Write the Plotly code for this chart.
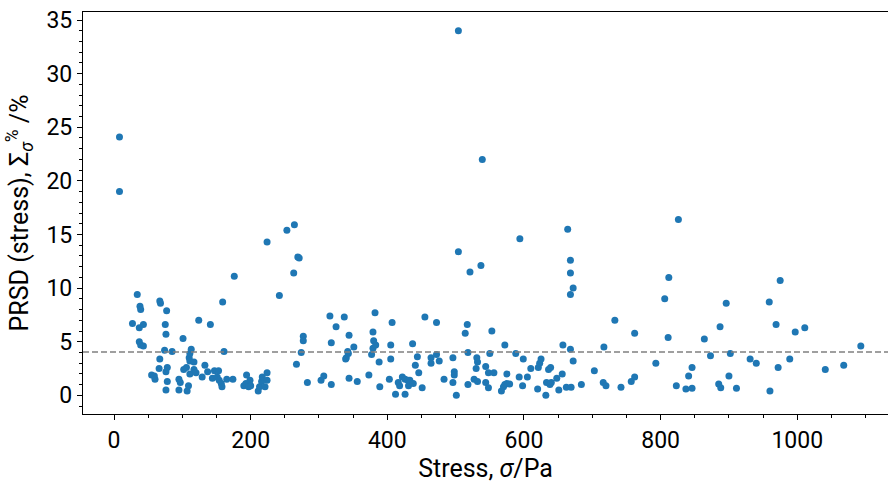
import plotly.graph_objects as go

# Stress (Pa) and percentage relative standard deviation of the stress (%)
stress = [
    8, 8, 27, 34, 37, 38, 39, 37, 39, 43, 43, 55, 59, 60, 66, 67, 67, 68, 74, 75,
    76, 76, 76, 77, 78, 78, 85, 95, 95, 97, 101, 102, 106, 107, 109, 110, 111, 111, 111, 113,
    117, 117, 120, 124, 129, 133, 137, 141, 144, 147, 151, 153, 154, 157, 158, 159, 161, 165, 174, 176,
    190, 193, 194, 197, 199, 200, 211, 213, 216, 217, 221, 224, 224, 224, 242, 253, 263, 264, 267, 269,
    271, 274, 277, 277, 283, 303, 307, 316, 318, 318, 325, 337, 339, 340, 342, 343, 344, 344, 351, 356,
    373, 377, 379, 379, 380, 382, 383, 388, 389, 403, 405, 405, 407, 412, 416, 418, 422, 426, 426, 430,
    431, 433, 437, 438, 441, 444, 446, 451, 455, 464, 464, 472, 472, 476, 483, 496, 496, 498, 498, 501,
    504, 504, 514, 517, 518, 518, 521, 527, 530, 531, 532, 532, 537, 539, 544, 544, 548, 548, 550, 553,
    556, 567, 570, 572, 572, 575, 575, 579, 588, 593, 594, 598, 599, 605, 610, 620, 621, 623, 625, 632,
    633, 636, 638, 639, 640, 648, 651, 656, 657, 662, 664, 668, 668, 668, 668, 669, 672, 672, 684, 703,
    716, 717, 720, 733, 742, 757, 762, 762, 793, 806, 811, 812, 823, 826, 837, 841, 846, 846, 864, 873,
    885, 887, 888, 896, 900, 902, 911, 931, 940, 959, 960, 969, 972, 975, 989, 997, 1011, 1041, 1068, 1093,
]
prsd = [
    24.1, 19.0, 6.7, 9.4, 6.3, 8.3, 8.0, 5.0, 4.7, 6.6, 4.6, 1.9, 1.8, 1.5, 2.5, 8.8, 3.4, 8.6, 4.2, 6.6,
    5.7, 2.2, 0.5, 7.9, 2.6, 1.3, 4.1, 1.5, 0.5, 1.2, 5.3, 2.4, 2.6, 0.4, 0.9, 3.5, 3.9, 3.2, 2.0, 4.3,
    3.1, 2.4, 2.1, 7.0, 1.7, 2.8, 2.2, 6.6, 1.6, 2.3, 1.7, 2.3, 1.4, 1.1, 0.8, 8.7, 4.1, 1.5, 1.5, 11.1,
    0.9, 1.1, 1.9, 0.8, 1.4, 0.9, 0.4, 0.8, 1.3, 1.7, 0.8, 14.3, 2.1, 1.4, 9.3, 15.4, 11.4, 15.9, 2.9, 12.9,
    12.8, 4.0, 5.5, 5.1, 1.2, 1.4, 1.8, 7.4, 1.0, 4.9, 6.4, 7.3, 3.4, 3.5, 4.1, 3.9, 5.6, 1.6, 4.5, 1.3,
    1.9, 3.8, 5.9, 4.4, 5.1, 7.7, 4.7, 3.1, 0.8, 1.5, 4.7, 3.4, 6.8, 0.1, 1.2, 0.9, 1.7, 1.5, 0.1, 1.4,
    0.9, 1.4, 4.8, 1.1, 2.8, 3.6, 2.1, 0.7, 7.3, 3.5, 3.0, 6.8, 3.8, 3.2, 1.5, 3.5, 1.2, 2.2, 1.9, 0.0,
    34.0, 13.4, 5.8, 6.6, 4.0, 1.0, 11.5, 1.5, 2.5, 3.5, 3.1, 1.3, 12.1, 22.0, 2.7, 1.2, 2.1, 0.7, 3.9, 6.0,
    2.1, 0.4, 0.8, 4.7, 1.0, 1.1, 2.0, 1.05, 3.9, 1.7, 14.6, 0.9, 3.4, 1.7, 2.5, 0.6, 2.6, 3.0, 3.4, 0.0,
    1.2, 2.4, 1.0, 2.6, 1.2, 1.6, 0.5, 2.0, 4.7, 0.75, 15.5, 12.6, 11.4, 9.4, 4.3, 0.75, 10.0, 3.2, 1.0, 2.3,
    1.2, 4.5, 0.9, 7.0, 0.75, 1.3, 5.8, 1.7, 3.0, 9.0, 5.4, 11.0, 0.9, 16.4, 0.6, 1.8, 0.65, 2.6, 5.25, 3.7,
    1.05, 6.4, 0.7, 8.6, 1.8, 3.9, 0.65, 3.4, 3.0, 8.7, 0.4, 6.6, 2.6, 10.7, 3.4, 5.9, 6.3, 2.4, 2.8, 4.6,
]

# Reference level drawn as a dashed horizontal line
reference_level = 4.04

FONT = "Roboto"

fig = go.Figure()
fig.add_trace(go.Scatter(
    x=stress, y=prsd, mode="markers",
    marker=dict(color="#1f77b4", size=7, line=dict(width=0)),
    showlegend=False, hoverinfo="x+y",
))

fig.add_hline(y=reference_level, line=dict(color="#808080", width=1.4, dash="6px,3px"))

fig.update_layout(
    width=888, height=483,
    margin=dict(l=83, r=0, t=12, b=69),
    paper_bgcolor="white", plot_bgcolor="white",
    font=dict(family=FONT, color="black", size=23),
)

fig.update_xaxes(
    range=[-45.4, 1132.8],
    tickmode="linear", tick0=0, dtick=200,
    ticks="outside", ticklen=5, tickwidth=1.2, tickcolor="black",
    minor=dict(tickmode="linear", tick0=0, dtick=50, ticks="outside", ticklen=3, tickwidth=1, tickcolor="black"),
    showline=True, linecolor="black", linewidth=1.3, mirror=True,
    showgrid=False, zeroline=False,
    tickfont=dict(family=FONT, size=23),
    title=dict(text="Stress, <i>σ</i>/Pa", font=dict(family=FONT, size=25), standoff=6),
)

fig.update_yaxes(
    range=[-1.74, 35.75],
    tickmode="linear", tick0=0, dtick=5,
    ticks="outside", ticklen=5, tickwidth=1.2, tickcolor="black",
    minor=dict(tickmode="linear", tick0=0, dtick=1, ticks="outside", ticklen=3, tickwidth=1, tickcolor="black"),
    showline=True, linecolor="black", linewidth=1.3, mirror=False,
    showgrid=False, zeroline=False,
    tickfont=dict(family=FONT, size=23),
    title=dict(text="PRSD (stress), Σ<sub><i>σ</i></sub><sup>%</sup> /%", font=dict(family=FONT, size=25), standoff=10),
)

fig.write_html("out.html")
